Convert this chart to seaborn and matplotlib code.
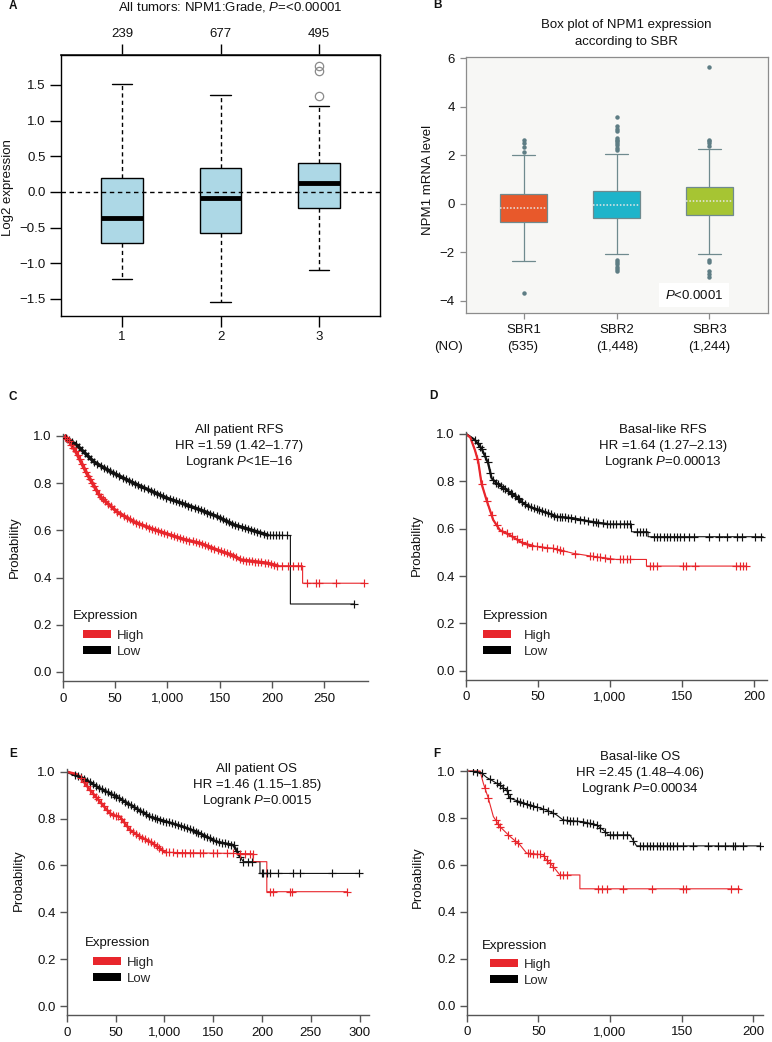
import numpy as np
import pandas as pd
import matplotlib
matplotlib.use("Agg")
import matplotlib.pyplot as plt
from matplotlib.patches import Patch
import seaborn as sns

# ---------------- data: panel A (grade) ----------------
grade_labels = ["1", "2", "3"]
grade_counts = ["239", "677", "495"]
grade_whislo = [-1.22, -1.55, -1.09]
grade_q1 = [-0.72, -0.57, -0.22]
grade_med = [-0.37, -0.08, 0.12]
grade_q3 = [0.19, 0.34, 0.40]
grade_whishi = [1.52, 1.36, 1.21]
grade_fliers = [[], [], [1.345, 1.70, 1.77]]

# ---------------- data: panel B (SBR) ----------------
sbr_labels = ["SBR1", "SBR2", "SBR3"]
sbr_counts = ["(535)", "(1,448)", "(1,244)"]
sbr_whislo = [-2.37, -2.08, -2.08]
sbr_q1 = [-0.75, -0.57, -0.45]
sbr_med = [-0.18, -0.03, 0.12]
sbr_q3 = [0.40, 0.53, 0.68]
sbr_whishi = [2.02, 2.07, 2.27]
sbr_fliers = [
    [2.15, 2.35, 2.49, 2.63, -3.68],
    [2.22, 2.30, 2.42, 2.50, 2.58, 2.65, 2.72, 3.00, 3.10, 3.20, 3.58,
     -2.30, -2.40, -2.50, -2.60, -2.70, -2.78],
    [2.40, 2.50, 2.58, 2.65, 5.65, -2.30, -2.40, -2.75, -2.90, -3.00],
]
sbr_colors = ["#e8592b", "#1eb4ca", "#a6c533"]

# ---------------- data: panel C (all patient RFS) ----------------
c_hi_t = [0, 5, 13, 22.7, 35.6, 51.6, 67.6, 83.6, 99.6, 115.6, 131.6, 147.6, 163.7, 170, 195.7, 205.3, 229.4, 229.4, 288]
c_hi_p = [1.0, 0.985, 0.927, 0.842, 0.743, 0.679, 0.637, 0.609, 0.585, 0.562, 0.545, 0.517, 0.492, 0.475, 0.461, 0.45, 0.45, 0.376, 0.376]
c_hi_c = [2, 4, 6, 8, 10, 12, 14, 16, 18, 20, 22, 24, 26, 28, 30, 32, 34, 36, 38, 40, 43, 46, 49, 52, 55,
          58, 61, 64, 67, 70, 73, 76, 79, 82, 85, 88, 91, 94, 97, 100, 103, 106, 109, 112, 115, 118, 121,
          124, 127, 130, 133, 136, 139, 142, 145, 148, 151, 154, 157, 160, 163, 166, 169, 172, 175, 178,
          181, 184, 187, 190, 193, 196, 199, 202, 205, 210, 215, 220, 225, 228, 234, 242, 245.5, 261.5, 288]
c_lo_t = [0, 13, 29.4, 45.4, 67.8, 83.8, 99.8, 115.8, 131.9, 147.9, 163.9, 179.9, 195.9, 217.7, 217.7, 279]
c_lo_p = [1.0, 0.962, 0.891, 0.849, 0.80, 0.768, 0.736, 0.712, 0.686, 0.658, 0.623, 0.602, 0.58, 0.578, 0.288, 0.288]
c_lo_c = [3, 6, 9, 12, 15, 18, 21, 24, 27, 30, 33, 36, 39, 42, 45, 48, 51, 54, 57, 60, 63, 66, 69, 72, 75,
          78, 81, 84, 87, 90, 93, 96, 99, 102, 105, 108, 111, 114, 117, 120, 123, 126, 129, 132, 135, 138,
          141, 144, 147, 150, 153, 156, 159, 162, 165, 168, 171, 174, 177, 180, 183, 186, 189, 192, 195,
          198, 201, 204, 207, 210, 214, 279]

# ---------------- data: panel D (basal-like RFS) ----------------
d_hi_t = [0, 3, 6.2, 8.5, 10.8, 14.3, 18.9, 23.5, 30.4, 39.7, 46.7, 60.6, 74.4, 86, 104.5, 125.3, 125.3, 194.8]
d_hi_p = [1.0, 0.985, 0.932, 0.883, 0.79, 0.72, 0.637, 0.594, 0.573, 0.538, 0.527, 0.517, 0.496, 0.485, 0.47, 0.47, 0.442, 0.442]
d_hi_c = [7.9, 10.9, 14.4, 17.8, 21.3, 24.7, 28.2, 31.7, 35.1, 38.6, 42.1, 45.6, 49, 52.5, 56, 60.6, 62.9,
          65.2, 67.5, 75.6, 86, 88.4, 90.7, 93, 96.5, 99.9, 106.8, 109.2, 111.5, 113.8, 127.7, 130, 132.3,
          150.8, 153.1, 158.9, 187.8, 190.1, 192.4, 194.7]
d_lo_t = [0, 6.2, 10.8, 15.4, 17.8, 21.3, 28.2, 35.1, 39.7, 46.7, 55.9, 62.8, 74.4, 86, 97.5, 114.9, 114.9, 126.4, 126.4, 206.4]
d_lo_p = [1.0, 0.975, 0.939, 0.876, 0.813, 0.792, 0.763, 0.735, 0.707, 0.686, 0.668, 0.651, 0.644, 0.63, 0.62, 0.62, 0.587, 0.587, 0.566, 0.566]
d_lo_c = [6, 8, 10, 11, 13, 15, 17, 19, 21, 22, 24, 26, 27, 29, 31, 32, 34, 36, 37, 39, 41, 43, 45, 47, 49,
          51, 53, 55, 57, 59, 61, 63, 65, 67, 69, 71, 73, 76, 79, 82, 85, 88, 90, 92, 95, 98, 100, 102, 104,
          107, 110, 112, 114, 119, 121, 123, 125, 130.3, 132.6, 134.9, 137.2, 139.5, 141.9, 144.2, 146.5,
          148.8, 151.2, 154.6, 158.1, 168.5, 175.5, 181.3, 188.2, 191.7, 201, 204.5]

# ---------------- data: panel E (all patient OS) ----------------
e_hi_t = [0, 10, 13.6, 23.9, 34.1, 44.4, 50, 54.6, 64.9, 75.1, 85.4, 95.6, 100.7, 191, 191, 205, 205, 287]
e_hi_p = [1.0, 0.99, 0.979, 0.922, 0.872, 0.822, 0.812, 0.808, 0.751, 0.723, 0.701, 0.673, 0.656, 0.65, 0.616, 0.616, 0.488, 0.488]
e_hi_c = [15, 18, 21, 24, 27, 30, 32, 35, 38, 41, 44, 47, 50, 53, 56, 59, 62, 65, 68, 71, 74, 77, 80, 83,
          86, 89, 92, 95, 98, 102, 105, 109.3, 112.7, 117.8, 121.2, 126.4, 129.8, 136.6, 140, 150.3, 153.7,
          163.9, 170.8, 177.6, 182.7, 187.9, 190.5, 208.3, 211.7, 228.8, 230.5, 287]
e_lo_t = [0, 17.1, 34.1, 51.2, 68.3, 85.4, 102.4, 119.5, 136.6, 153.7, 170.8, 177.6, 181, 198, 198, 300]
e_lo_p = [1.0, 0.972, 0.929, 0.893, 0.851, 0.808, 0.787, 0.765, 0.737, 0.701, 0.687, 0.637, 0.616, 0.616, 0.566, 0.566]
e_lo_c = [8, 12, 15, 18, 21, 24, 27, 30, 33, 36, 39, 42, 45, 48, 51, 54, 57, 60, 63, 66, 69, 72, 75, 78,
          81, 84, 87, 90, 93, 96, 99, 102, 105, 108, 111, 114, 117, 120, 123, 126, 129, 132, 135, 138, 141,
          144, 147, 150, 153, 156, 159, 162, 165, 168, 171, 174, 178, 181, 186, 190, 199.8, 201.5, 204.9,
          208.3, 216.9, 232.3, 239.1, 271.5, 299.9]

# ---------------- data: panel F (basal-like OS) ----------------
f_hi_t = [0, 9.3, 11.6, 15.1, 18.6, 23.2, 30.2, 37.2, 41.8, 53.4, 55.7, 60.4, 65, 79, 79, 190.6]
f_hi_p = [1.0, 1.0, 0.948, 0.884, 0.806, 0.763, 0.721, 0.685, 0.65, 0.643, 0.621, 0.593, 0.557, 0.557, 0.498, 0.498]
f_hi_c = [12.8, 15.1, 20.4, 22.1, 23.2, 29.0, 33.7, 36, 43, 44.1, 46.4, 48.8, 51.1, 53.9, 55.8, 58.1,
          60.4, 65, 67.4, 69.7, 91.8, 94.1, 97.6, 109.2, 129, 151, 153.4, 184.8, 189.4]
f_lo_t = [0, 9.3, 13.9, 23.2, 27.8, 30.2, 44.1, 55.7, 62.7, 67.4, 81.3, 90.6, 95.3, 98.8, 113.9, 117.4, 118.5, 204.5]
f_lo_p = [1.0, 0.997, 0.973, 0.94, 0.919, 0.884, 0.855, 0.834, 0.813, 0.791, 0.784, 0.77, 0.749, 0.728, 0.728, 0.692, 0.681, 0.681]
f_lo_c = [4.6, 7, 10.5, 16.3, 20.9, 23.2, 25.6, 27.9, 29.1, 30.2, 34.9, 37.2, 39.5, 41.9, 44.2, 46.5, 48.8,
          53.5, 57, 60.5, 67.4, 69.8, 72.1, 74.4, 76.7, 81.4, 83.7, 86, 88.4, 90.7, 93, 96.5, 100, 102.3,
          104.7, 109.3, 111.6, 116.3, 121, 123.3, 125.6, 128, 130.2, 132.6, 134.9, 137.2, 139.5, 141.9,
          144.2, 146.5, 151.2, 158.1, 168.6, 175.6, 180.2, 186, 187.2, 193, 204.5]

prob_ticks = [0.0, 0.2, 0.4, 0.6, 0.8, 1.0]
prob_labels = ["0.0", "0.2", "0.4", "0.6", "0.8", "1.0"]
time_labels = ["0", "50", "1,000", "150", "200", "250", "300"]

# ---------------- style ----------------
sns.set_theme(style="ticks")
plt.rcParams['font.family'] = ['Liberation Sans', 'DejaVu Sans']
plt.rcParams['mathtext.fontset'] = 'custom'
plt.rcParams['mathtext.rm'] = 'Liberation Sans'
plt.rcParams['mathtext.it'] = 'Liberation Sans:italic'
plt.rcParams['axes.unicode_minus'] = True

FS = 9.5
RED = "#e8262c"
BLK = "#111111"
W, H = 772, 1042
fig = plt.figure(figsize=(W / 100, H / 100), dpi=100)
fig.patch.set_facecolor("white")


def add_ax(l, t, r, b):
    return fig.add_axes([l / W, 1 - b / H, (r - l) / W, (b - t) / H])


def ftxt(x, y, s, **kw):
    kw.setdefault("ha", "center")
    kw.setdefault("va", "center")
    kw.setdefault("fontsize", FS)
    kw.setdefault("color", "#111111")
    fig.text(x / W, 1 - y / H, s, **kw)


def box_sample(lo, q1, med, q3, hi, fliers, k=50):
    return [lo] + [q1] * k + [med] * k + [q3] * k + [hi] + list(fliers)


def build_df(labels, lo, q1, med, q3, hi, fl):
    rows = []
    for i, lab in enumerate(labels):
        for v in box_sample(lo[i], q1[i], med[i], q3[i], hi[i], fl[i]):
            rows.append((lab, v))
    return pd.DataFrame(rows, columns=["group", "value"])


def minus(v, fmt):
    return (fmt % v).replace("-", "\u2212")

# ================= Panel A =================
dfA = build_df(grade_labels, grade_whislo, grade_q1, grade_med, grade_q3, grade_whishi, grade_fliers)
axA = add_ax(61, 55, 380, 316)
sns.boxplot(data=dfA, x="group", y="value", order=grade_labels, ax=axA, width=0.42,
            color="#add8e6", saturation=1, linecolor="black", linewidth=1.0, whis=1.5, fliersize=6,
            medianprops=dict(color="black", linewidth=3.5, solid_capstyle="butt"),
            whiskerprops=dict(color="black", linewidth=1.0, linestyle=(0, (3, 2.3))),
            capprops=dict(color="black", linewidth=1.0),
            flierprops=dict(marker="o", markerfacecolor="none", markeredgecolor="#8a8a8a",
                            markeredgewidth=0.9))
axA.axhline(0, color="black", lw=1.0, ls=(0, (3.2, 2.6)), zorder=6)
axA.set_xlim(-0.62, 2.62)
axA.set_ylim(-1.74, 1.92)
a_yt = [-1.5, -1.0, -0.5, 0.0, 0.5, 1.0, 1.5]
axA.set_yticks(a_yt, [minus(v, "%.1f") for v in a_yt])
axA.set_xticks([0, 1, 2], grade_labels)
axA.set_xlabel("")
axA.set_ylabel("")
for s in axA.spines.values():
    s.set_color("black")
    s.set_linewidth(1.0)
axA.tick_params(axis="both", length=8, width=1, color="black", labelsize=FS, labelcolor="#111", pad=3)
sec = axA.secondary_xaxis("top")
sec.set_xticks([0, 1, 2], grade_counts)
sec.tick_params(length=8, width=1, color="black", labelsize=FS, labelcolor="#111", pad=3)
ftxt(13, 6, "A", fontweight="bold", fontsize=8.5)
ftxt(230, 7, "All tumors: NPM1:Grade, $P$=<0.00001")
ftxt(8, 188, "Log2 expression", rotation=90)

# ================= Panel B =================
dfB = build_df(sbr_labels, sbr_whislo, sbr_q1, sbr_med, sbr_q3, sbr_whishi, sbr_fliers)
axB = add_ax(466, 57, 768, 313)
axB.set_facecolor("#f7f7f5")
sns.boxplot(data=dfB, x="group", y="value", hue="group", order=sbr_labels, hue_order=sbr_labels,
            palette=sbr_colors, legend=False, ax=axB, width=0.5, saturation=1,
            linecolor="#6f8a8e", linewidth=0.9, whis=1.5, fliersize=2.2,
            medianprops=dict(color="#e8e8e8", linewidth=1.1, linestyle=(0, (1, 1.2))),
            whiskerprops=dict(color="#6f8a8e", linewidth=0.9),
            capprops=dict(color="#6f8a8e", linewidth=0.9),
            flierprops=dict(marker="o", markerfacecolor="#5e7d84", markeredgecolor="#5e7d84"))
axB.set_xlim(-0.62, 2.63)
axB.set_ylim(-4.5, 6.05)
b_yt = [-4, -2, 0, 2, 4, 6]
axB.set_yticks(b_yt, [minus(v, "%d") for v in b_yt])
axB.set_xticks([0, 1, 2], sbr_labels)
axB.set_xlabel("")
axB.set_ylabel("")
for s in axB.spines.values():
    s.set_color("#8c8c8c")
    s.set_linewidth(0.9)
axB.tick_params(axis="both", length=4, width=0.9, color="#8c8c8c", labelsize=FS, labelcolor="#111", pad=4)
axB.text(0.755, 0.07, "$P$<0.0001", transform=axB.transAxes, ha="center", va="center", fontsize=FS,
         color="#111", bbox=dict(facecolor="white", edgecolor="none", pad=4))
ftxt(437, 5, "B", fontweight="bold", fontsize=8.5)
ftxt(626, 25, "Box plot of NPM1 expression")
ftxt(626, 42, "according to SBR")
ftxt(428, 180, "NPM1 mRNA level", rotation=90)
ftxt(449, 347, "(NO)")
for i, lab in enumerate(sbr_counts):
    ftxt([523, 617, 709][i], 347, lab)


# ================= KM panels =================
def km_panel(box, hi, lo, xmax, nticks, letter, letter_xy, texts, text_x, text_y0,
             ylab_xy, leg_title_xy, leg_xy, leg_pad, dense):
    ax = add_ax(*box)
    for (t, p, c), col, dlim in ((lo, BLK, dense[0]), (hi, RED, dense[1])):
        sns.lineplot(x=t, y=p, ax=ax, color=col, lw=0.8, estimator=None, sort=False)
        # thicker stroke where censor marks crowd the curve
        td = [v for v in t if v <= dlim]
        pd_ = p[:len(td)]
        sns.lineplot(x=td, y=pd_, ax=ax, color=col, lw=dense[2], estimator=None, sort=False)
        cy = np.interp(c, t, p)
        sns.scatterplot(x=c, y=cy, ax=ax, marker="+", s=32, color=col, linewidth=0.85, zorder=3)
    ax.set_xlim(0, xmax)
    ax.set_ylim(-0.04, 1.01)
    xt = [50 * i for i in range(nticks)]
    ax.set_xticks(xt, time_labels[:nticks])
    ax.set_yticks(prob_ticks, prob_labels)
    ax.set_xlabel("")
    ax.set_ylabel("")
    for s in ("top", "right"):
        ax.spines[s].set_visible(False)
    for s in ("left", "bottom"):
        ax.spines[s].set_color("#555555")
        ax.spines[s].set_linewidth(1.0)
    ax.tick_params(axis="both", length=5, width=1, color="#555555", labelsize=FS, labelcolor="#111", pad=3)
    ftxt(letter_xy[0], letter_xy[1], letter, fontweight="bold", fontsize=8.5)
    for i, s in enumerate(texts):
        ftxt(text_x, text_y0 + 16 * i, s)
    ftxt(ylab_xy[0], ylab_xy[1], "Probability", rotation=90)
    ftxt(leg_title_xy[0], leg_title_xy[1], "Expression", ha="left")
    handles = [Patch(facecolor=RED, edgecolor="none", label="High"),
               Patch(facecolor="black", edgecolor="none", label="Low")]
    fig.legend(handles=handles, loc="upper left", bbox_to_anchor=(leg_xy[0] / W, 1 - leg_xy[1] / H),
               bbox_transform=fig.transFigure, frameon=False, fontsize=FS, borderpad=0,
               borderaxespad=0, handlelength=2.1, handleheight=0.55, handletextpad=leg_pad,
               labelspacing=0.3)
    return ax


km_panel((63, 433.6, 368, 681.4), (c_hi_t, c_hi_p, c_hi_c), (c_lo_t, c_lo_p, c_lo_c), 292, 6,
         "C", (13, 397),
         ["All patient RFS", "HR =1.59 (1.42\u20131.77)", "Logrank $P$<1E\u201316"], 239, 430,
         (15, 547), (73, 616), (83, 630), 0.45, (200, 206, 2.4))
km_panel((466, 431.6, 767, 680.2), (d_hi_t, d_hi_p, d_hi_c), (d_lo_t, d_lo_p, d_lo_c), 209, 5,
         "D", (433, 396),
         ["Basal-like RFS", "HR =1.64 (1.27\u20132.13)", "Logrank $P$=0.00013"], 663, 430,
         (417, 545), (483, 616), (483, 630), 1.0, (100, 47, 1.6))
km_panel((66.7, 769.4, 369.3, 1015.4), (e_hi_t, e_hi_p, e_hi_c), (e_lo_t, e_lo_p, e_lo_c), 310, 7,
         "E", (13, 754),
         ["All patient OS", "HR =1.46 (1.15\u20131.85)", "Logrank $P$=0.0015"], 257, 769,
         (19, 880), (85, 943), (93, 957), 0.5, (178, 101, 1.8))
km_panel((466.7, 768.7, 763.3, 1015), (f_hi_t, f_hi_p, f_hi_c), (f_lo_t, f_lo_p, f_lo_c), 207, 5,
         "F", (437, 754),
         ["Basal-like OS", "HR =2.45 (1.48\u20134.06)", "Logrank $P$=0.00034"], 640, 757,
         (418, 877), (482, 946), (490, 959), 0.5, (0, 0, 1.0))

fig.savefig("out.png", dpi=100, facecolor="white")
